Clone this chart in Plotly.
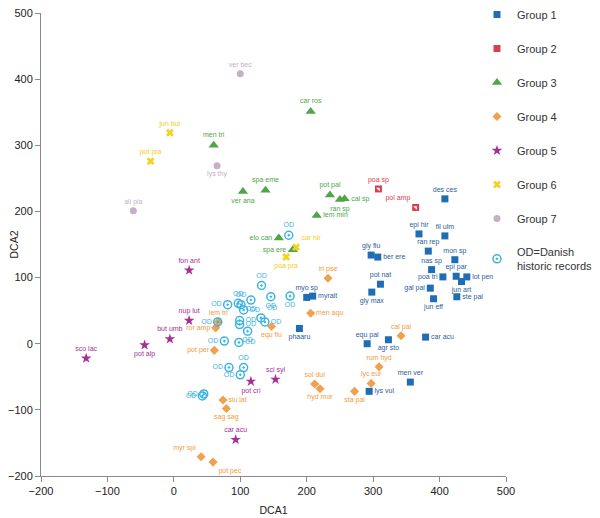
import plotly.graph_objects as go

# ---------------- data ----------------
g1_names = ["des ces", "epi hir", "fil ulm", "gly flu", "ber ere", "ran rep", "mon sp", "nas sp",
            "epi par", "lot pen", "poa tri", "jun art", "gal pal", "ste pal", "jun eff", "pot nat",
            "gly max", "myo sp", "myralt", "phaaru", "equ pal", "agr sto", "car acu", "men ver", "lys vul"]
g1_x = [408, 369, 408, 297, 307, 383, 423, 388, 425, 441, 405, 433, 386, 426, 391, 311,
        298, 200, 209, 189, 291, 323, 379, 356, 294]
g1_y = [219, 166, 163, 134, 131, 140, 127, 112, 102, 101, 101, 94, 84, 71, 68, 90,
        78, 70, 72, 23, 0, 6, 10, -58, -72]

g2_names = ["poa sp", "pol amp"]
g2_x = [308, 364]
g2_y = [234, 206]

g3_names = ["car ros", "men tri", "ver ana", "spa eme", "pot pal", "ran sp", "cal sp", "lem min",
            "elo can", "spa ere"]
g3_x = [206, 60, 104, 138, 235, 250, 257, 215, 158, 179]
g3_y = [351, 300, 230, 232, 225, 218, 219, 194, 160, 142]

g4_names = ["iri pse", "men aqu", "lem tri", "ror amp", "equ flu", "pot per", "cal pal", "rum hyd",
            "lyc eur", "sol dul", "hyd mor", "sta pal", "siu lat", "sag sag", "myr spi", "pot pec"]
g4_x = [232, 206, 67, 63, 147, 61, 342, 309, 297, 212, 220, 272, 74, 79, 41, 59]
g4_y = [99, 46, 33, 24, 26, -10, 12, -35, -60, -61, -68, -72, -85, -98, -171, -179]

g5_names = ["fon ant", "nup lut", "but umb", "pot alp", "sco lac", "pot cri", "sci syl", "car acu"]
g5_x = [23, 23, -6, -44, -132, 116, 153, 93]
g5_y = [111, 35, 7, -2, -22, -57, -54, -145]

g6_names = ["jun bul", "pot pra", "car hir", "poa pra"]
g6_x = [-6, -35, 184, 169]
g6_y = [319, 276, 146, 131]

g7_names = ["ver bec", "lys thy", "ali pla"]
g7_x = [100, 65, -61]
g7_y = [408, 269, 201]

od_x = [173, 132, 116, 146, 175, 81, 97, 101, 105, 131, 137, 66, 99, 99, 111, 76, 98, 83, 105, 100, 45, 43]
od_y = [164, 88, 66, 71, 72, 59, 61, 59, 51, 39, 33, 33, 35, 29, 19, 4, 2, -36, -36, -47, -76, -79]

x_ticks = [-200, -100, 0, 100, 200, 300, 400, 500]
y_ticks = [-200, -100, 0, 100, 200, 300, 400, 500]

# ---------------- label placement (style) ----------------
g1_pos = ["top center", "top center", "top center", "top center", "middle right", "top center",
          "top center", "top center", "top center", "middle right", "middle left", "bottom center",
          "middle left", "middle right", "bottom center", "top center", "bottom center", "top center",
          "middle right", "bottom center", "top center", "bottom center", "middle right",
          "top center", "middle right"]
g2_pos = ["top center", "top left"]
g3_pos = ["top center", "top center", "bottom center", "top center", "top center", "bottom center",
          "middle right", "middle right", "middle left", "middle left"]
g4_pos = ["top center", "middle right", "top center", "middle left", "bottom center", "middle left",
          "top center", "top center", "top center", "top center", "bottom center", "bottom center",
          "middle right", "bottom center", "top left", "bottom right"]
g5_pos = ["top center", "top center", "top center", "bottom center", "top center", "bottom center",
          "top center", "top center"]
g6_pos = ["top center", "top center", "top right", "bottom center"]
g7_pos = ["top center", "bottom center", "top center"]
od_pos = ["top center", "top center", "bottom center", "bottom center", "bottom center", "middle left",
          "top center", "top center", "middle right", "top right", "middle right", "middle left",
          "middle right", "middle right", "bottom center", "middle left", "middle right",
          "middle left", "top center", "middle left", "middle left", "middle left"]

FONT = "Liberation Sans, Arial, Helvetica, sans-serif"
LBL = 7

fig = go.Figure()

def add_group(name, xs, ys, names, pos, color, tcolor, symbol, size, line=None, showlegend=True):
    fig.add_trace(go.Scatter(
        x=xs, y=ys, mode="markers+text", name=name, text=names, textposition=pos,
        textfont=dict(size=LBL, color=tcolor, family=FONT),
        marker=dict(symbol=symbol, size=size, color=color,
                    line=line if line else dict(width=0)),
        showlegend=showlegend, legendgroup=name, cliponaxis=False,
        hoverinfo="text"))

add_group("Group 1", g1_x, g1_y, g1_names, g1_pos, "#1f6db5", "#2b5d9c", "square", 7)
add_group("Group 2", g2_x, g2_y, g2_names, g2_pos, "#d9404e", "#e0404e", "square", 7)
fig.add_trace(go.Scatter(x=g2_x, y=g2_y, mode="markers", showlegend=False, legendgroup="Group 2",
                         marker=dict(symbol="triangle-ne", size=4, color="white", line=dict(width=0)),
                         hoverinfo="skip", cliponaxis=False))
add_group("Group 3", g3_x, g3_y, g3_names, g3_pos, "#4ea646", "#4ea646", "triangle-up", 9)
add_group("Group 4", g4_x, g4_y, g4_names, g4_pos, "#f0a04e", "#f39a3c", "diamond", 7)
add_group("Group 5", g5_x, g5_y, g5_names, g5_pos, "#a52f96", "#a52f96", "star", 8)
add_group("Group 6", g6_x, g6_y, g6_names, g6_pos, "#f4d21f", "#f2cc1a", "x", 7)
add_group("Group 7", g7_x, g7_y, g7_names, g7_pos, "#c8aec6", "#c8aec6", "circle", 7)
add_group("OD=Danish<br>historic records", od_x, od_y, ["OD"] * len(od_x), od_pos,
          "#3ab3e3", "#3ab3e3", "circle-open-dot", 8, line=dict(width=1.5, color="#3ab3e3"))

axis_common = dict(showgrid=False, zeroline=False, showline=True, linecolor="#8a8a8a", linewidth=1,
                   ticks="outside", ticklen=5, tickcolor="#8a8a8a", tickwidth=1, automargin=False,
                   ticklabeloverflow="allow",
                   tickfont=dict(size=11, color="#222", family=FONT),
                   title_font=dict(size=10.5, color="#222", family=FONT))

# page body has an 8px margin, so the figure is offset by 8px on the 600x518 window
fig.update_layout(
    width=600, height=510,
    margin=dict(l=33, r=102, t=5, b=42, autoexpand=False),
    paper_bgcolor="white", plot_bgcolor="white",
    font=dict(family=FONT),
    xaxis=dict(range=[-200, 500], tickvals=x_ticks, title=dict(text="DCA1", standoff=10), **axis_common),
    yaxis=dict(range=[-200, 500], tickvals=y_ticks, title=dict(text="DCA2", standoff=13), **axis_common),
    legend=dict(x=0.9376, y=0.7257, xanchor="left", yanchor="middle", tracegroupgap=15,
                font=dict(size=11, color="#333", family=FONT), bgcolor="rgba(0,0,0,0)",
                itemsizing="trace"),
)

fig.write_html("out.html")
